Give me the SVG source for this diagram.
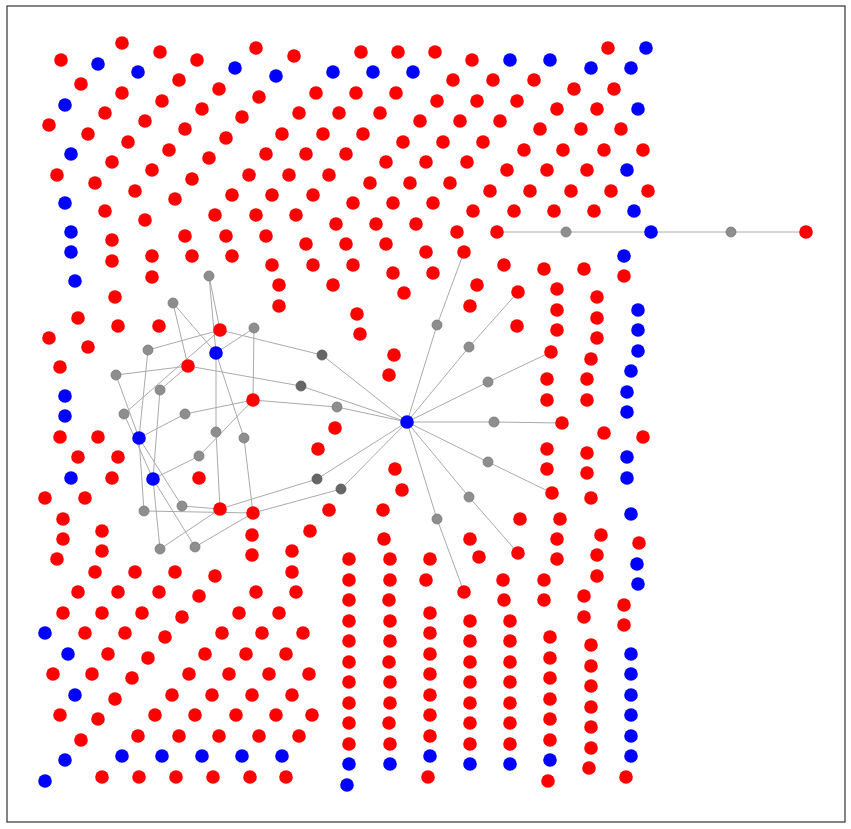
<svg xmlns="http://www.w3.org/2000/svg" width="851" height="829" viewBox="0 0 851 829">
<style>
.r{fill:#ff0000}
.b{fill:#0000ff}
.g{fill:#8e8e8e;stroke:#777;stroke-width:0.8}
.d{fill:#666;stroke:#555;stroke-width:0.8}
#edges line{stroke:#aaaaaa;stroke-width:1}
</style>
<rect x="0" y="0" width="851" height="829" fill="#fff"/>
<rect x="7" y="6" width="838" height="816" fill="none" stroke="#333" stroke-width="1.2"/>
<g id="edges">
<line x1="497" y1="232" x2="806" y2="232"/>
<line x1="407" y1="422" x2="322" y2="355"/><line x1="322" y1="355" x2="220" y2="330"/>
<line x1="407" y1="422" x2="301" y2="386"/><line x1="301" y1="386" x2="188" y2="366"/>
<line x1="407" y1="422" x2="337" y2="407"/><line x1="337" y1="407" x2="253" y2="400"/>
<line x1="407" y1="422" x2="317" y2="479"/><line x1="317" y1="479" x2="220" y2="509"/>
<line x1="407" y1="422" x2="341" y2="489"/><line x1="341" y1="489" x2="253" y2="513"/>
<line x1="407" y1="422" x2="437" y2="325"/><line x1="437" y1="325" x2="464" y2="252"/>
<line x1="407" y1="422" x2="469" y2="347"/><line x1="469" y1="347" x2="518" y2="292"/>
<line x1="407" y1="422" x2="488" y2="382"/><line x1="488" y1="382" x2="551" y2="352"/>
<line x1="407" y1="422" x2="494" y2="422"/><line x1="494" y1="422" x2="562" y2="423"/>
<line x1="407" y1="422" x2="488" y2="462"/><line x1="488" y1="462" x2="552" y2="493"/>
<line x1="407" y1="422" x2="469" y2="497"/><line x1="469" y1="497" x2="518" y2="553"/>
<line x1="407" y1="422" x2="437" y2="519"/><line x1="437" y1="519" x2="464" y2="592"/>
<line x1="209" y1="276" x2="220" y2="330"/><line x1="209" y1="276" x2="216" y2="353"/>
<line x1="173" y1="303" x2="188" y2="366"/><line x1="173" y1="303" x2="216" y2="353"/>
<line x1="254" y1="328" x2="216" y2="353"/><line x1="254" y1="328" x2="253" y2="400"/>
<line x1="148" y1="350" x2="220" y2="330"/><line x1="148" y1="350" x2="139" y2="438"/>
<line x1="116" y1="375" x2="188" y2="366"/><line x1="116" y1="375" x2="139" y2="438"/>
<line x1="160" y1="390" x2="188" y2="366"/><line x1="160" y1="390" x2="153" y2="479"/>
<line x1="124" y1="414" x2="220" y2="330"/><line x1="124" y1="414" x2="153" y2="479"/>
<line x1="185" y1="414" x2="139" y2="438"/><line x1="185" y1="414" x2="253" y2="400"/>
<line x1="216" y1="432" x2="216" y2="353"/><line x1="216" y1="432" x2="220" y2="509"/>
<line x1="244" y1="438" x2="216" y2="353"/><line x1="244" y1="438" x2="253" y2="513"/>
<line x1="199" y1="456" x2="253" y2="400"/><line x1="199" y1="456" x2="153" y2="479"/>
<line x1="182" y1="506" x2="139" y2="438"/><line x1="182" y1="506" x2="220" y2="509"/>
<line x1="144" y1="511" x2="139" y2="438"/><line x1="144" y1="511" x2="253" y2="513"/>
<line x1="160" y1="549" x2="153" y2="479"/><line x1="160" y1="549" x2="220" y2="509"/>
<line x1="195" y1="547" x2="153" y2="479"/><line x1="195" y1="547" x2="253" y2="513"/>
</g>
<g id="grays">
<g id="g1"><circle class="g" cx="566" cy="232" r="5"/></g>
<g id="g2"><circle class="g" cx="731" cy="232" r="5"/></g>
<g id="g3"><circle class="d" cx="322" cy="355" r="5"/></g>
<g id="g4"><circle class="d" cx="301" cy="386" r="5"/></g>
<g id="g5"><circle class="g" cx="337" cy="407" r="5"/></g>
<g id="g6"><circle class="d" cx="317" cy="479" r="5"/></g>
<g id="g7"><circle class="d" cx="341" cy="489" r="5"/></g>
<g id="g8"><circle class="g" cx="437" cy="325" r="5"/></g>
<g id="g9"><circle class="g" cx="469" cy="347" r="5"/></g>
<g id="g10"><circle class="g" cx="488" cy="382" r="5"/></g>
<g id="g11"><circle class="g" cx="494" cy="422" r="5"/></g>
<g id="g12"><circle class="g" cx="488" cy="462" r="5"/></g>
<g id="g13"><circle class="g" cx="469" cy="497" r="5"/></g>
<g id="g14"><circle class="g" cx="437" cy="519" r="5"/></g>
<g id="g15"><circle class="g" cx="209" cy="276" r="5"/></g>
<g id="g16"><circle class="g" cx="173" cy="303" r="5"/></g>
<g id="g17"><circle class="g" cx="254" cy="328" r="5"/></g>
<g id="g18"><circle class="g" cx="148" cy="350" r="5"/></g>
<g id="g19"><circle class="g" cx="116" cy="375" r="5"/></g>
<g id="g20"><circle class="g" cx="160" cy="390" r="5"/></g>
<g id="g21"><circle class="g" cx="124" cy="414" r="5"/></g>
<g id="g22"><circle class="g" cx="185" cy="414" r="5"/></g>
<g id="g23"><circle class="g" cx="216" cy="432" r="5"/></g>
<g id="g24"><circle class="g" cx="244" cy="438" r="5"/></g>
<g id="g25"><circle class="g" cx="199" cy="456" r="5"/></g>
<g id="g26"><circle class="g" cx="182" cy="506" r="5"/></g>
<g id="g27"><circle class="g" cx="144" cy="511" r="5"/></g>
<g id="g28"><circle class="g" cx="160" cy="549" r="5"/></g>
<g id="g29"><circle class="g" cx="195" cy="547" r="5"/></g>
</g>
<g id="blues">
<g id="b1"><circle class="b" cx="98" cy="64" r="6.8"/></g>
<g id="b2"><circle class="b" cx="138" cy="72" r="6.8"/></g>
<g id="b3"><circle class="b" cx="235" cy="68" r="6.8"/></g>
<g id="b4"><circle class="b" cx="276" cy="76" r="6.8"/></g>
<g id="b5"><circle class="b" cx="333" cy="72" r="6.8"/></g>
<g id="b6"><circle class="b" cx="373" cy="72" r="6.8"/></g>
<g id="b7"><circle class="b" cx="413" cy="72" r="6.8"/></g>
<g id="b8"><circle class="b" cx="510" cy="60" r="6.8"/></g>
<g id="b9"><circle class="b" cx="550" cy="60" r="6.8"/></g>
<g id="b10"><circle class="b" cx="646" cy="48" r="6.8"/></g>
<g id="b11"><circle class="b" cx="591" cy="68" r="6.8"/></g>
<g id="b12"><circle class="b" cx="631" cy="68" r="6.8"/></g>
<g id="b13"><circle class="b" cx="65" cy="105" r="6.8"/></g>
<g id="b14"><circle class="b" cx="638" cy="109" r="6.8"/></g>
<g id="b15"><circle class="b" cx="71" cy="154" r="6.8"/></g>
<g id="b16"><circle class="b" cx="627" cy="170" r="6.8"/></g>
<g id="b17"><circle class="b" cx="65" cy="203" r="6.8"/></g>
<g id="b18"><circle class="b" cx="634" cy="211" r="6.8"/></g>
<g id="b19"><circle class="b" cx="71" cy="232" r="6.8"/></g>
<g id="b20"><circle class="b" cx="651" cy="232" r="6.8"/></g>
<g id="b21"><circle class="b" cx="71" cy="252" r="6.8"/></g>
<g id="b22"><circle class="b" cx="624" cy="256" r="6.8"/></g>
<g id="b23"><circle class="b" cx="75" cy="281" r="6.8"/></g>
<g id="b24"><circle class="b" cx="216" cy="353" r="6.8"/></g>
<g id="b25"><circle class="b" cx="638" cy="310" r="6.8"/></g>
<g id="b26"><circle class="b" cx="638" cy="330" r="6.8"/></g>
<g id="b27"><circle class="b" cx="638" cy="351" r="6.8"/></g>
<g id="b28"><circle class="b" cx="631" cy="371" r="6.8"/></g>
<g id="b29"><circle class="b" cx="627" cy="392" r="6.8"/></g>
<g id="b30"><circle class="b" cx="627" cy="412" r="6.8"/></g>
<g id="b31"><circle class="b" cx="65" cy="396" r="6.8"/></g>
<g id="b32"><circle class="b" cx="65" cy="416" r="6.8"/></g>
<g id="b33"><circle class="b" cx="139" cy="438" r="6.8"/></g>
<g id="b34"><circle class="b" cx="407" cy="422" r="6.8"/></g>
<g id="b35"><circle class="b" cx="627" cy="457" r="6.8"/></g>
<g id="b36"><circle class="b" cx="627" cy="478" r="6.8"/></g>
<g id="b37"><circle class="b" cx="71" cy="478" r="6.8"/></g>
<g id="b38"><circle class="b" cx="153" cy="479" r="6.8"/></g>
<g id="b39"><circle class="b" cx="631" cy="514" r="6.8"/></g>
<g id="b40"><circle class="b" cx="637" cy="564" r="6.8"/></g>
<g id="b41"><circle class="b" cx="638" cy="584" r="6.8"/></g>
<g id="b42"><circle class="b" cx="45" cy="633" r="6.8"/></g>
<g id="b43"><circle class="b" cx="68" cy="654" r="6.8"/></g>
<g id="b44"><circle class="b" cx="631" cy="654" r="6.8"/></g>
<g id="b45"><circle class="b" cx="631" cy="674" r="6.8"/></g>
<g id="b46"><circle class="b" cx="75" cy="695" r="6.8"/></g>
<g id="b47"><circle class="b" cx="631" cy="695" r="6.8"/></g>
<g id="b48"><circle class="b" cx="631" cy="715" r="6.8"/></g>
<g id="b49"><circle class="b" cx="631" cy="736" r="6.8"/></g>
<g id="b50"><circle class="b" cx="65" cy="760" r="6.8"/></g>
<g id="b51"><circle class="b" cx="122" cy="756" r="6.8"/></g>
<g id="b52"><circle class="b" cx="162" cy="756" r="6.8"/></g>
<g id="b53"><circle class="b" cx="202" cy="756" r="6.8"/></g>
<g id="b54"><circle class="b" cx="242" cy="756" r="6.8"/></g>
<g id="b55"><circle class="b" cx="282" cy="756" r="6.8"/></g>
<g id="b56"><circle class="b" cx="631" cy="756" r="6.8"/></g>
<g id="b57"><circle class="b" cx="45" cy="781" r="6.8"/></g>
<g id="b58"><circle class="b" cx="349" cy="764" r="6.8"/></g>
<g id="b59"><circle class="b" cx="347" cy="785" r="6.8"/></g>
<g id="b60"><circle class="b" cx="390" cy="764" r="6.8"/></g>
<g id="b61"><circle class="b" cx="430" cy="756" r="6.8"/></g>
<g id="b62"><circle class="b" cx="470" cy="764" r="6.8"/></g>
<g id="b63"><circle class="b" cx="510" cy="764" r="6.8"/></g>
<g id="b64"><circle class="b" cx="550" cy="760" r="6.8"/></g>
</g>
<g id="reds">
<g id="r1"><circle class="r" cx="61" cy="60" r="6.8"/></g>
<g id="r2"><circle class="r" cx="122" cy="43" r="6.8"/></g>
<g id="r3"><circle class="r" cx="160" cy="52" r="6.8"/></g>
<g id="r4"><circle class="r" cx="197" cy="60" r="6.8"/></g>
<g id="r5"><circle class="r" cx="256" cy="48" r="6.8"/></g>
<g id="r6"><circle class="r" cx="294" cy="56" r="6.8"/></g>
<g id="r7"><circle class="r" cx="361" cy="52" r="6.8"/></g>
<g id="r8"><circle class="r" cx="398" cy="52" r="6.8"/></g>
<g id="r9"><circle class="r" cx="435" cy="52" r="6.8"/></g>
<g id="r10"><circle class="r" cx="472" cy="60" r="6.8"/></g>
<g id="r11"><circle class="r" cx="608" cy="48" r="6.8"/></g>
<g id="r12"><circle class="r" cx="81" cy="84" r="6.8"/></g>
<g id="r13"><circle class="r" cx="179" cy="80" r="6.8"/></g>
<g id="r14"><circle class="r" cx="219" cy="89" r="6.8"/></g>
<g id="r15"><circle class="r" cx="453" cy="80" r="6.8"/></g>
<g id="r16"><circle class="r" cx="493" cy="80" r="6.8"/></g>
<g id="r17"><circle class="r" cx="534" cy="80" r="6.8"/></g>
<g id="r18"><circle class="r" cx="574" cy="89" r="6.8"/></g>
<g id="r19"><circle class="r" cx="614" cy="89" r="6.8"/></g>
<g id="r20"><circle class="r" cx="122" cy="93" r="6.8"/></g>
<g id="r21"><circle class="r" cx="316" cy="93" r="6.8"/></g>
<g id="r22"><circle class="r" cx="356" cy="93" r="6.8"/></g>
<g id="r23"><circle class="r" cx="396" cy="93" r="6.8"/></g>
<g id="r24"><circle class="r" cx="162" cy="101" r="6.8"/></g>
<g id="r25"><circle class="r" cx="259" cy="97" r="6.8"/></g>
<g id="r26"><circle class="r" cx="437" cy="101" r="6.8"/></g>
<g id="r27"><circle class="r" cx="477" cy="101" r="6.8"/></g>
<g id="r28"><circle class="r" cx="517" cy="101" r="6.8"/></g>
<g id="r29"><circle class="r" cx="105" cy="113" r="6.8"/></g>
<g id="r30"><circle class="r" cx="202" cy="109" r="6.8"/></g>
<g id="r31"><circle class="r" cx="299" cy="113" r="6.8"/></g>
<g id="r32"><circle class="r" cx="339" cy="113" r="6.8"/></g>
<g id="r33"><circle class="r" cx="380" cy="113" r="6.8"/></g>
<g id="r34"><circle class="r" cx="557" cy="109" r="6.8"/></g>
<g id="r35"><circle class="r" cx="597" cy="109" r="6.8"/></g>
<g id="r36"><circle class="r" cx="145" cy="121" r="6.8"/></g>
<g id="r37"><circle class="r" cx="242" cy="117" r="6.8"/></g>
<g id="r38"><circle class="r" cx="420" cy="121" r="6.8"/></g>
<g id="r39"><circle class="r" cx="460" cy="121" r="6.8"/></g>
<g id="r40"><circle class="r" cx="500" cy="121" r="6.8"/></g>
<g id="r41"><circle class="r" cx="49" cy="125" r="6.8"/></g>
<g id="r42"><circle class="r" cx="185" cy="129" r="6.8"/></g>
<g id="r43"><circle class="r" cx="540" cy="129" r="6.8"/></g>
<g id="r44"><circle class="r" cx="581" cy="129" r="6.8"/></g>
<g id="r45"><circle class="r" cx="621" cy="129" r="6.8"/></g>
<g id="r46"><circle class="r" cx="88" cy="134" r="6.8"/></g>
<g id="r47"><circle class="r" cx="282" cy="134" r="6.8"/></g>
<g id="r48"><circle class="r" cx="323" cy="134" r="6.8"/></g>
<g id="r49"><circle class="r" cx="363" cy="134" r="6.8"/></g>
<g id="r50"><circle class="r" cx="128" cy="142" r="6.8"/></g>
<g id="r51"><circle class="r" cx="226" cy="138" r="6.8"/></g>
<g id="r52"><circle class="r" cx="403" cy="142" r="6.8"/></g>
<g id="r53"><circle class="r" cx="443" cy="142" r="6.8"/></g>
<g id="r54"><circle class="r" cx="483" cy="142" r="6.8"/></g>
<g id="r55"><circle class="r" cx="169" cy="150" r="6.8"/></g>
<g id="r56"><circle class="r" cx="266" cy="154" r="6.8"/></g>
<g id="r57"><circle class="r" cx="306" cy="154" r="6.8"/></g>
<g id="r58"><circle class="r" cx="346" cy="154" r="6.8"/></g>
<g id="r59"><circle class="r" cx="524" cy="150" r="6.8"/></g>
<g id="r60"><circle class="r" cx="563" cy="150" r="6.8"/></g>
<g id="r61"><circle class="r" cx="604" cy="150" r="6.8"/></g>
<g id="r62"><circle class="r" cx="643" cy="150" r="6.8"/></g>
<g id="r63"><circle class="r" cx="112" cy="162" r="6.8"/></g>
<g id="r64"><circle class="r" cx="209" cy="158" r="6.8"/></g>
<g id="r65"><circle class="r" cx="386" cy="162" r="6.8"/></g>
<g id="r66"><circle class="r" cx="426" cy="162" r="6.8"/></g>
<g id="r67"><circle class="r" cx="467" cy="162" r="6.8"/></g>
<g id="r68"><circle class="r" cx="57" cy="175" r="6.8"/></g>
<g id="r69"><circle class="r" cx="152" cy="170" r="6.8"/></g>
<g id="r70"><circle class="r" cx="249" cy="175" r="6.8"/></g>
<g id="r71"><circle class="r" cx="289" cy="175" r="6.8"/></g>
<g id="r72"><circle class="r" cx="329" cy="175" r="6.8"/></g>
<g id="r73"><circle class="r" cx="507" cy="170" r="6.8"/></g>
<g id="r74"><circle class="r" cx="547" cy="170" r="6.8"/></g>
<g id="r75"><circle class="r" cx="587" cy="170" r="6.8"/></g>
<g id="r76"><circle class="r" cx="95" cy="183" r="6.8"/></g>
<g id="r77"><circle class="r" cx="192" cy="179" r="6.8"/></g>
<g id="r78"><circle class="r" cx="370" cy="183" r="6.8"/></g>
<g id="r79"><circle class="r" cx="410" cy="183" r="6.8"/></g>
<g id="r80"><circle class="r" cx="450" cy="183" r="6.8"/></g>
<g id="r81"><circle class="r" cx="135" cy="191" r="6.8"/></g>
<g id="r82"><circle class="r" cx="232" cy="195" r="6.8"/></g>
<g id="r83"><circle class="r" cx="272" cy="195" r="6.8"/></g>
<g id="r84"><circle class="r" cx="313" cy="195" r="6.8"/></g>
<g id="r85"><circle class="r" cx="490" cy="191" r="6.8"/></g>
<g id="r86"><circle class="r" cx="530" cy="191" r="6.8"/></g>
<g id="r87"><circle class="r" cx="571" cy="191" r="6.8"/></g>
<g id="r88"><circle class="r" cx="611" cy="191" r="6.8"/></g>
<g id="r89"><circle class="r" cx="648" cy="191" r="6.8"/></g>
<g id="r90"><circle class="r" cx="175" cy="199" r="6.8"/></g>
<g id="r91"><circle class="r" cx="353" cy="203" r="6.8"/></g>
<g id="r92"><circle class="r" cx="393" cy="203" r="6.8"/></g>
<g id="r93"><circle class="r" cx="433" cy="203" r="6.8"/></g>
<g id="r94"><circle class="r" cx="105" cy="211" r="6.8"/></g>
<g id="r95"><circle class="r" cx="473" cy="211" r="6.8"/></g>
<g id="r96"><circle class="r" cx="514" cy="211" r="6.8"/></g>
<g id="r97"><circle class="r" cx="554" cy="211" r="6.8"/></g>
<g id="r98"><circle class="r" cx="594" cy="211" r="6.8"/></g>
<g id="r99"><circle class="r" cx="145" cy="220" r="6.8"/></g>
<g id="r100"><circle class="r" cx="215" cy="215" r="6.8"/></g>
<g id="r101"><circle class="r" cx="256" cy="215" r="6.8"/></g>
<g id="r102"><circle class="r" cx="296" cy="215" r="6.8"/></g>
<g id="r103"><circle class="r" cx="336" cy="224" r="6.8"/></g>
<g id="r104"><circle class="r" cx="376" cy="224" r="6.8"/></g>
<g id="r105"><circle class="r" cx="416" cy="224" r="6.8"/></g>
<g id="r106"><circle class="r" cx="112" cy="240" r="6.8"/></g>
<g id="r107"><circle class="r" cx="185" cy="236" r="6.8"/></g>
<g id="r108"><circle class="r" cx="226" cy="236" r="6.8"/></g>
<g id="r109"><circle class="r" cx="266" cy="236" r="6.8"/></g>
<g id="r110"><circle class="r" cx="457" cy="232" r="6.8"/></g>
<g id="r111"><circle class="r" cx="497" cy="232" r="6.8"/></g>
<g id="r112"><circle class="r" cx="806" cy="232" r="6.8"/></g>
<g id="r113"><circle class="r" cx="306" cy="244" r="6.8"/></g>
<g id="r114"><circle class="r" cx="346" cy="244" r="6.8"/></g>
<g id="r115"><circle class="r" cx="386" cy="244" r="6.8"/></g>
<g id="r116"><circle class="r" cx="112" cy="261" r="6.8"/></g>
<g id="r117"><circle class="r" cx="152" cy="256" r="6.8"/></g>
<g id="r118"><circle class="r" cx="192" cy="256" r="6.8"/></g>
<g id="r119"><circle class="r" cx="232" cy="256" r="6.8"/></g>
<g id="r120"><circle class="r" cx="426" cy="252" r="6.8"/></g>
<g id="r121"><circle class="r" cx="464" cy="252" r="6.8"/></g>
<g id="r122"><circle class="r" cx="272" cy="265" r="6.8"/></g>
<g id="r123"><circle class="r" cx="313" cy="265" r="6.8"/></g>
<g id="r124"><circle class="r" cx="353" cy="265" r="6.8"/></g>
<g id="r125"><circle class="r" cx="504" cy="265" r="6.8"/></g>
<g id="r126"><circle class="r" cx="544" cy="269" r="6.8"/></g>
<g id="r127"><circle class="r" cx="584" cy="269" r="6.8"/></g>
<g id="r128"><circle class="r" cx="393" cy="273" r="6.8"/></g>
<g id="r129"><circle class="r" cx="433" cy="273" r="6.8"/></g>
<g id="r130"><circle class="r" cx="152" cy="277" r="6.8"/></g>
<g id="r131"><circle class="r" cx="624" cy="276" r="6.8"/></g>
<g id="r132"><circle class="r" cx="279" cy="285" r="6.8"/></g>
<g id="r133"><circle class="r" cx="333" cy="285" r="6.8"/></g>
<g id="r134"><circle class="r" cx="404" cy="293" r="6.8"/></g>
<g id="r135"><circle class="r" cx="477" cy="285" r="6.8"/></g>
<g id="r136"><circle class="r" cx="518" cy="292" r="6.8"/></g>
<g id="r137"><circle class="r" cx="557" cy="289" r="6.8"/></g>
<g id="r138"><circle class="r" cx="597" cy="297" r="6.8"/></g>
<g id="r139"><circle class="r" cx="115" cy="297" r="6.8"/></g>
<g id="r140"><circle class="r" cx="279" cy="306" r="6.8"/></g>
<g id="r141"><circle class="r" cx="470" cy="306" r="6.8"/></g>
<g id="r142"><circle class="r" cx="557" cy="310" r="6.8"/></g>
<g id="r143"><circle class="r" cx="597" cy="318" r="6.8"/></g>
<g id="r144"><circle class="r" cx="357" cy="314" r="6.8"/></g>
<g id="r145"><circle class="r" cx="78" cy="318" r="6.8"/></g>
<g id="r146"><circle class="r" cx="118" cy="326" r="6.8"/></g>
<g id="r147"><circle class="r" cx="159" cy="326" r="6.8"/></g>
<g id="r148"><circle class="r" cx="220" cy="330" r="6.8"/></g>
<g id="r149"><circle class="r" cx="360" cy="334" r="6.8"/></g>
<g id="r150"><circle class="r" cx="517" cy="326" r="6.8"/></g>
<g id="r151"><circle class="r" cx="557" cy="330" r="6.8"/></g>
<g id="r152"><circle class="r" cx="597" cy="338" r="6.8"/></g>
<g id="r153"><circle class="r" cx="49" cy="338" r="6.8"/></g>
<g id="r154"><circle class="r" cx="88" cy="347" r="6.8"/></g>
<g id="r155"><circle class="r" cx="394" cy="355" r="6.8"/></g>
<g id="r156"><circle class="r" cx="551" cy="352" r="6.8"/></g>
<g id="r157"><circle class="r" cx="591" cy="359" r="6.8"/></g>
<g id="r158"><circle class="r" cx="60" cy="367" r="6.8"/></g>
<g id="r159"><circle class="r" cx="188" cy="366" r="6.8"/></g>
<g id="r160"><circle class="r" cx="389" cy="375" r="6.8"/></g>
<g id="r161"><circle class="r" cx="547" cy="379" r="6.8"/></g>
<g id="r162"><circle class="r" cx="587" cy="379" r="6.8"/></g>
<g id="r163"><circle class="r" cx="253" cy="400" r="6.8"/></g>
<g id="r164"><circle class="r" cx="547" cy="400" r="6.8"/></g>
<g id="r165"><circle class="r" cx="587" cy="400" r="6.8"/></g>
<g id="r166"><circle class="r" cx="335" cy="428" r="6.8"/></g>
<g id="r167"><circle class="r" cx="562" cy="423" r="6.8"/></g>
<g id="r168"><circle class="r" cx="604" cy="433" r="6.8"/></g>
<g id="r169"><circle class="r" cx="643" cy="437" r="6.8"/></g>
<g id="r170"><circle class="r" cx="60" cy="437" r="6.8"/></g>
<g id="r171"><circle class="r" cx="98" cy="437" r="6.8"/></g>
<g id="r172"><circle class="r" cx="318" cy="449" r="6.8"/></g>
<g id="r173"><circle class="r" cx="547" cy="449" r="6.8"/></g>
<g id="r174"><circle class="r" cx="587" cy="453" r="6.8"/></g>
<g id="r175"><circle class="r" cx="78" cy="457" r="6.8"/></g>
<g id="r176"><circle class="r" cx="118" cy="457" r="6.8"/></g>
<g id="r177"><circle class="r" cx="395" cy="469" r="6.8"/></g>
<g id="r178"><circle class="r" cx="547" cy="469" r="6.8"/></g>
<g id="r179"><circle class="r" cx="587" cy="473" r="6.8"/></g>
<g id="r180"><circle class="r" cx="112" cy="478" r="6.8"/></g>
<g id="r181"><circle class="r" cx="199" cy="478" r="6.8"/></g>
<g id="r182"><circle class="r" cx="45" cy="498" r="6.8"/></g>
<g id="r183"><circle class="r" cx="85" cy="498" r="6.8"/></g>
<g id="r184"><circle class="r" cx="402" cy="490" r="6.8"/></g>
<g id="r185"><circle class="r" cx="552" cy="493" r="6.8"/></g>
<g id="r186"><circle class="r" cx="591" cy="498" r="6.8"/></g>
<g id="r187"><circle class="r" cx="63" cy="519" r="6.8"/></g>
<g id="r188"><circle class="r" cx="220" cy="509" r="6.8"/></g>
<g id="r189"><circle class="r" cx="253" cy="513" r="6.8"/></g>
<g id="r190"><circle class="r" cx="329" cy="510" r="6.8"/></g>
<g id="r191"><circle class="r" cx="383" cy="510" r="6.8"/></g>
<g id="r192"><circle class="r" cx="520" cy="519" r="6.8"/></g>
<g id="r193"><circle class="r" cx="560" cy="519" r="6.8"/></g>
<g id="r194"><circle class="r" cx="102" cy="531" r="6.8"/></g>
<g id="r195"><circle class="r" cx="310" cy="531" r="6.8"/></g>
<g id="r196"><circle class="r" cx="601" cy="535" r="6.8"/></g>
<g id="r197"><circle class="r" cx="63" cy="539" r="6.8"/></g>
<g id="r198"><circle class="r" cx="252" cy="535" r="6.8"/></g>
<g id="r199"><circle class="r" cx="384" cy="539" r="6.8"/></g>
<g id="r200"><circle class="r" cx="470" cy="539" r="6.8"/></g>
<g id="r201"><circle class="r" cx="557" cy="539" r="6.8"/></g>
<g id="r202"><circle class="r" cx="639" cy="543" r="6.8"/></g>
<g id="r203"><circle class="r" cx="102" cy="551" r="6.8"/></g>
<g id="r204"><circle class="r" cx="292" cy="551" r="6.8"/></g>
<g id="r205"><circle class="r" cx="57" cy="559" r="6.8"/></g>
<g id="r206"><circle class="r" cx="252" cy="555" r="6.8"/></g>
<g id="r207"><circle class="r" cx="349" cy="559" r="6.8"/></g>
<g id="r208"><circle class="r" cx="390" cy="559" r="6.8"/></g>
<g id="r209"><circle class="r" cx="430" cy="559" r="6.8"/></g>
<g id="r210"><circle class="r" cx="479" cy="557" r="6.8"/></g>
<g id="r211"><circle class="r" cx="518" cy="553" r="6.8"/></g>
<g id="r212"><circle class="r" cx="557" cy="559" r="6.8"/></g>
<g id="r213"><circle class="r" cx="597" cy="555" r="6.8"/></g>
<g id="r214"><circle class="r" cx="95" cy="572" r="6.8"/></g>
<g id="r215"><circle class="r" cx="135" cy="572" r="6.8"/></g>
<g id="r216"><circle class="r" cx="175" cy="572" r="6.8"/></g>
<g id="r217"><circle class="r" cx="215" cy="576" r="6.8"/></g>
<g id="r218"><circle class="r" cx="292" cy="572" r="6.8"/></g>
<g id="r219"><circle class="r" cx="349" cy="580" r="6.8"/></g>
<g id="r220"><circle class="r" cx="390" cy="580" r="6.8"/></g>
<g id="r221"><circle class="r" cx="426" cy="580" r="6.8"/></g>
<g id="r222"><circle class="r" cx="503" cy="580" r="6.8"/></g>
<g id="r223"><circle class="r" cx="544" cy="580" r="6.8"/></g>
<g id="r224"><circle class="r" cx="597" cy="576" r="6.8"/></g>
<g id="r225"><circle class="r" cx="78" cy="592" r="6.8"/></g>
<g id="r226"><circle class="r" cx="118" cy="592" r="6.8"/></g>
<g id="r227"><circle class="r" cx="159" cy="592" r="6.8"/></g>
<g id="r228"><circle class="r" cx="199" cy="596" r="6.8"/></g>
<g id="r229"><circle class="r" cx="256" cy="592" r="6.8"/></g>
<g id="r230"><circle class="r" cx="296" cy="592" r="6.8"/></g>
<g id="r231"><circle class="r" cx="349" cy="600" r="6.8"/></g>
<g id="r232"><circle class="r" cx="389" cy="600" r="6.8"/></g>
<g id="r233"><circle class="r" cx="464" cy="592" r="6.8"/></g>
<g id="r234"><circle class="r" cx="504" cy="600" r="6.8"/></g>
<g id="r235"><circle class="r" cx="544" cy="600" r="6.8"/></g>
<g id="r236"><circle class="r" cx="584" cy="596" r="6.8"/></g>
<g id="r237"><circle class="r" cx="63" cy="613" r="6.8"/></g>
<g id="r238"><circle class="r" cx="102" cy="613" r="6.8"/></g>
<g id="r239"><circle class="r" cx="142" cy="613" r="6.8"/></g>
<g id="r240"><circle class="r" cx="182" cy="617" r="6.8"/></g>
<g id="r241"><circle class="r" cx="239" cy="613" r="6.8"/></g>
<g id="r242"><circle class="r" cx="279" cy="613" r="6.8"/></g>
<g id="r243"><circle class="r" cx="349" cy="621" r="6.8"/></g>
<g id="r244"><circle class="r" cx="390" cy="621" r="6.8"/></g>
<g id="r245"><circle class="r" cx="430" cy="613" r="6.8"/></g>
<g id="r246"><circle class="r" cx="470" cy="621" r="6.8"/></g>
<g id="r247"><circle class="r" cx="510" cy="621" r="6.8"/></g>
<g id="r248"><circle class="r" cx="584" cy="617" r="6.8"/></g>
<g id="r249"><circle class="r" cx="624" cy="605" r="6.8"/></g>
<g id="r250"><circle class="r" cx="85" cy="633" r="6.8"/></g>
<g id="r251"><circle class="r" cx="125" cy="633" r="6.8"/></g>
<g id="r252"><circle class="r" cx="165" cy="637" r="6.8"/></g>
<g id="r253"><circle class="r" cx="222" cy="633" r="6.8"/></g>
<g id="r254"><circle class="r" cx="262" cy="633" r="6.8"/></g>
<g id="r255"><circle class="r" cx="303" cy="633" r="6.8"/></g>
<g id="r256"><circle class="r" cx="349" cy="641" r="6.8"/></g>
<g id="r257"><circle class="r" cx="390" cy="641" r="6.8"/></g>
<g id="r258"><circle class="r" cx="430" cy="633" r="6.8"/></g>
<g id="r259"><circle class="r" cx="470" cy="641" r="6.8"/></g>
<g id="r260"><circle class="r" cx="510" cy="641" r="6.8"/></g>
<g id="r261"><circle class="r" cx="550" cy="637" r="6.8"/></g>
<g id="r262"><circle class="r" cx="624" cy="625" r="6.8"/></g>
<g id="r263"><circle class="r" cx="108" cy="654" r="6.8"/></g>
<g id="r264"><circle class="r" cx="148" cy="658" r="6.8"/></g>
<g id="r265"><circle class="r" cx="205" cy="654" r="6.8"/></g>
<g id="r266"><circle class="r" cx="246" cy="654" r="6.8"/></g>
<g id="r267"><circle class="r" cx="286" cy="654" r="6.8"/></g>
<g id="r268"><circle class="r" cx="349" cy="662" r="6.8"/></g>
<g id="r269"><circle class="r" cx="389" cy="662" r="6.8"/></g>
<g id="r270"><circle class="r" cx="430" cy="654" r="6.8"/></g>
<g id="r271"><circle class="r" cx="470" cy="662" r="6.8"/></g>
<g id="r272"><circle class="r" cx="510" cy="662" r="6.8"/></g>
<g id="r273"><circle class="r" cx="550" cy="658" r="6.8"/></g>
<g id="r274"><circle class="r" cx="591" cy="645" r="6.8"/></g>
<g id="r275"><circle class="r" cx="53" cy="674" r="6.8"/></g>
<g id="r276"><circle class="r" cx="92" cy="674" r="6.8"/></g>
<g id="r277"><circle class="r" cx="132" cy="678" r="6.8"/></g>
<g id="r278"><circle class="r" cx="189" cy="674" r="6.8"/></g>
<g id="r279"><circle class="r" cx="229" cy="674" r="6.8"/></g>
<g id="r280"><circle class="r" cx="269" cy="674" r="6.8"/></g>
<g id="r281"><circle class="r" cx="309" cy="674" r="6.8"/></g>
<g id="r282"><circle class="r" cx="349" cy="682" r="6.8"/></g>
<g id="r283"><circle class="r" cx="390" cy="682" r="6.8"/></g>
<g id="r284"><circle class="r" cx="430" cy="674" r="6.8"/></g>
<g id="r285"><circle class="r" cx="470" cy="682" r="6.8"/></g>
<g id="r286"><circle class="r" cx="510" cy="682" r="6.8"/></g>
<g id="r287"><circle class="r" cx="550" cy="678" r="6.8"/></g>
<g id="r288"><circle class="r" cx="591" cy="666" r="6.8"/></g>
<g id="r289"><circle class="r" cx="591" cy="686" r="6.8"/></g>
<g id="r290"><circle class="r" cx="115" cy="699" r="6.8"/></g>
<g id="r291"><circle class="r" cx="172" cy="695" r="6.8"/></g>
<g id="r292"><circle class="r" cx="212" cy="695" r="6.8"/></g>
<g id="r293"><circle class="r" cx="252" cy="695" r="6.8"/></g>
<g id="r294"><circle class="r" cx="292" cy="695" r="6.8"/></g>
<g id="r295"><circle class="r" cx="349" cy="703" r="6.8"/></g>
<g id="r296"><circle class="r" cx="390" cy="703" r="6.8"/></g>
<g id="r297"><circle class="r" cx="430" cy="695" r="6.8"/></g>
<g id="r298"><circle class="r" cx="470" cy="703" r="6.8"/></g>
<g id="r299"><circle class="r" cx="510" cy="703" r="6.8"/></g>
<g id="r300"><circle class="r" cx="550" cy="699" r="6.8"/></g>
<g id="r301"><circle class="r" cx="591" cy="707" r="6.8"/></g>
<g id="r302"><circle class="r" cx="60" cy="715" r="6.8"/></g>
<g id="r303"><circle class="r" cx="98" cy="719" r="6.8"/></g>
<g id="r304"><circle class="r" cx="155" cy="715" r="6.8"/></g>
<g id="r305"><circle class="r" cx="195" cy="715" r="6.8"/></g>
<g id="r306"><circle class="r" cx="236" cy="715" r="6.8"/></g>
<g id="r307"><circle class="r" cx="276" cy="715" r="6.8"/></g>
<g id="r308"><circle class="r" cx="312" cy="715" r="6.8"/></g>
<g id="r309"><circle class="r" cx="349" cy="723" r="6.8"/></g>
<g id="r310"><circle class="r" cx="389" cy="723" r="6.8"/></g>
<g id="r311"><circle class="r" cx="430" cy="715" r="6.8"/></g>
<g id="r312"><circle class="r" cx="470" cy="723" r="6.8"/></g>
<g id="r313"><circle class="r" cx="510" cy="723" r="6.8"/></g>
<g id="r314"><circle class="r" cx="550" cy="719" r="6.8"/></g>
<g id="r315"><circle class="r" cx="591" cy="727" r="6.8"/></g>
<g id="r316"><circle class="r" cx="81" cy="740" r="6.8"/></g>
<g id="r317"><circle class="r" cx="138" cy="736" r="6.8"/></g>
<g id="r318"><circle class="r" cx="179" cy="736" r="6.8"/></g>
<g id="r319"><circle class="r" cx="219" cy="736" r="6.8"/></g>
<g id="r320"><circle class="r" cx="259" cy="736" r="6.8"/></g>
<g id="r321"><circle class="r" cx="299" cy="736" r="6.8"/></g>
<g id="r322"><circle class="r" cx="349" cy="744" r="6.8"/></g>
<g id="r323"><circle class="r" cx="390" cy="744" r="6.8"/></g>
<g id="r324"><circle class="r" cx="430" cy="736" r="6.8"/></g>
<g id="r325"><circle class="r" cx="470" cy="744" r="6.8"/></g>
<g id="r326"><circle class="r" cx="510" cy="744" r="6.8"/></g>
<g id="r327"><circle class="r" cx="550" cy="740" r="6.8"/></g>
<g id="r328"><circle class="r" cx="591" cy="748" r="6.8"/></g>
<g id="r329"><circle class="r" cx="589" cy="768" r="6.8"/></g>
<g id="r330"><circle class="r" cx="102" cy="777" r="6.8"/></g>
<g id="r331"><circle class="r" cx="139" cy="777" r="6.8"/></g>
<g id="r332"><circle class="r" cx="176" cy="777" r="6.8"/></g>
<g id="r333"><circle class="r" cx="213" cy="777" r="6.8"/></g>
<g id="r334"><circle class="r" cx="250" cy="777" r="6.8"/></g>
<g id="r335"><circle class="r" cx="286" cy="777" r="6.8"/></g>
<g id="r336"><circle class="r" cx="428" cy="777" r="6.8"/></g>
<g id="r337"><circle class="r" cx="548" cy="781" r="6.8"/></g>
<g id="r338"><circle class="r" cx="626" cy="777" r="6.8"/></g>
</g>
</svg>
